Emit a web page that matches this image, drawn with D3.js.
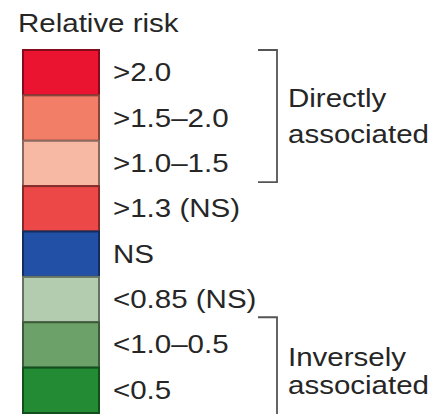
<!DOCTYPE html>
<html><head><meta charset="utf-8">
<script src="https://cdn.jsdelivr.net/npm/d3@7"></script>
<style>html,body{margin:0;padding:0;background:#fff;}svg{display:block;}</style>
</head><body>
<svg id="c" width="436" height="414"></svg>
<script>
const title = "Relative risk";
const categories = [">2.0", ">1.5\u20132.0", ">1.0\u20131.5", ">1.3 (NS)", "NS", "<0.85 (NS)", "<1.0\u20130.5", "<0.5"];
const swatchColors = ["#ea1430", "#f27e68", "#f8b9a4", "#ec4848", "#2150a6", "#b3cbae", "#6ca169", "#228b33"];
const groupNames = [["Directly", "associated"], ["Inversely", "associated"]];
const groupStart = [0, 6];
const groupEnd = [2, 7];

const svg = d3.select("#c");
const font = "'Liberation Sans', Arial, Helvetica, sans-serif";
const sx = 1.18, fs = 25;

const y = d3.scaleBand().domain(d3.range(categories.length)).range([50, 413]).padding(0);
const color = d3.scaleOrdinal().domain(d3.range(categories.length)).range(swatchColors);

function txt(x, yy, s) {
  svg.append("text")
    .attr("transform", `translate(${x},${yy}) scale(${sx},1)`)
    .attr("font-family", font).attr("font-size", fs).attr("fill", "#262626")
    .text(s);
}

txt(18, 32, title);

svg.append("g").selectAll("rect").data(categories).join("rect")
  .attr("x", 23).attr("width", 76)
  .attr("y", (d, i) => y(i)).attr("height", y.bandwidth())
  .attr("fill", (d, i) => color(i))
  .attr("stroke", (d, i) => d3.color(color(i)).darker(1.6))
  .attr("stroke-width", 2);

categories.forEach((c, i) => txt(113, y(i) + y.bandwidth() / 2 + 8.5, c));

groupNames.forEach((g, k) => {
  const top = y(groupStart[k]) - (k === 0 ? 0 : 5);
  const bot = k === 0 ? y(groupEnd[k]) + y.bandwidth() - 4 : 414;
  const p = d3.path();
  p.moveTo(258, top); p.lineTo(277, top); p.lineTo(277, bot);
  if (k === 0) p.lineTo(258, bot);
  svg.append("path").attr("d", p.toString()).attr("fill", "none")
    .attr("stroke", "#555").attr("stroke-width", 1.8);
  const mid = (top + (k === 0 ? bot : 413)) / 2;
  txt(288, mid - (k === 0 ? 9 : -1), g[0]);
  txt(288, mid + (k === 0 ? 27 : 29), g[1]);
});
</script>
</body></html>
